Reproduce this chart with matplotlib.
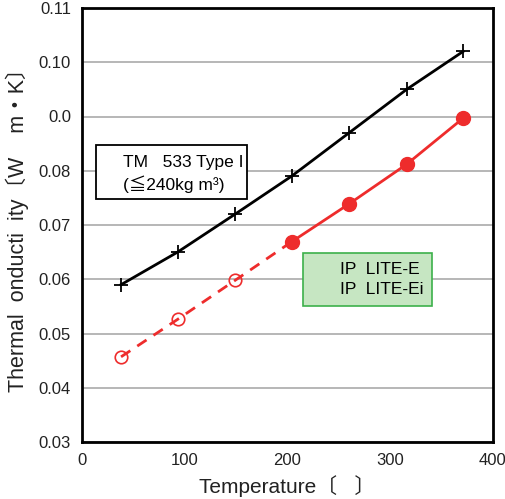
import matplotlib
matplotlib.use("Agg")
import matplotlib.pyplot as plt
from matplotlib.patches import Rectangle

plt.rcParams['font.family'] = ['Liberation Sans', 'Noto Sans CJK JP', 'DejaVu Sans']

temps = [38, 93, 149, 204, 260, 316, 371]
tm533 = [0.059, 0.065, 0.072, 0.079, 0.087, 0.095, 0.102]
iplite = [0.0457, 0.0526, 0.0598, 0.0669, 0.0739, 0.0812, 0.0897]
yticks = [0.03, 0.04, 0.05, 0.06, 0.07, 0.08, 0.09, 0.10, 0.11]
ytick_labels = ['0.03', '0.04', '0.05', '0.06', '0.07', '0.08', '0.0', '0.10', '0.11']
xticks = [0, 100, 200, 300, 400]

W, H = 506, 499
fig = plt.figure(figsize=(W/100, H/100), dpi=100)
ax = fig.add_axes([82/W, 1-442/H, 411/W, 434/H])

red = '#ee2c2c'
ax.plot(temps, tm533, color='black', lw=2, marker='+', ms=10, mew=1.3, zorder=3)
ax.plot(temps[:4], iplite[:4], color=red, lw=2, ls=(0, (4, 3)), zorder=3)
ax.plot(temps[:3], iplite[:3], ls='none', marker='o', ms=9, mfc='none', mec=red, mew=1.2, zorder=4)
ax.plot(temps[3:], iplite[3:], color=red, lw=2, marker='o', ms=10, zorder=3)

ax.set_xlim(0, 400)
ax.set_ylim(0.03, 0.11)
ax.set_xticks(xticks)
ax.set_yticks(yticks)
ax.set_yticklabels(ytick_labels)
ax.tick_params(length=0, labelsize=12, pad=8, colors='#222222')
ax.yaxis.grid(True, color='#aaaaaa', lw=1.2)
ax.set_axisbelow(True)
for s in ax.spines.values():
    s.set_linewidth(2)

ax.set_xlabel('Temperature〔   〕', fontsize=15, labelpad=5, color='#222222')
ax.set_ylabel('Thermal  onducti  ity〔W    m・K〕', fontsize=15.5, labelpad=7, color='#222222')

def px(x, y):
    return x / W, 1 - y / H

# TM box
x0, y0 = px(96, 199)
x1, y1 = px(247, 145)
fig.patches.append(Rectangle((x0, y0), x1 - x0, y1 - y0, transform=fig.transFigure,
                             fc='white', ec='black', lw=1.3, zorder=5))
fig.text(*px(123, 163), 'TM   533 Type I', fontsize=12.5, va='center', ha='left', zorder=6)
fig.text(*px(123, 184), '(≦240kg m³)', fontsize=12.5, va='center', ha='left', zorder=6)

# green box
x0, y0 = px(303, 306)
x1, y1 = px(432, 253)
fig.patches.append(Rectangle((x0, y0), x1 - x0, y1 - y0, transform=fig.transFigure,
                             fc='#c6e6c2', ec='#3cb04a', lw=1.2, zorder=5))
fig.text(*px(340, 269), 'IP  LITE-E', fontsize=12.5, va='center', ha='left', zorder=6)
fig.text(*px(340, 290), 'IP  LITE-Ei', fontsize=12.5, va='center', ha='left', zorder=6)

fig.savefig('out.png', dpi=100)
